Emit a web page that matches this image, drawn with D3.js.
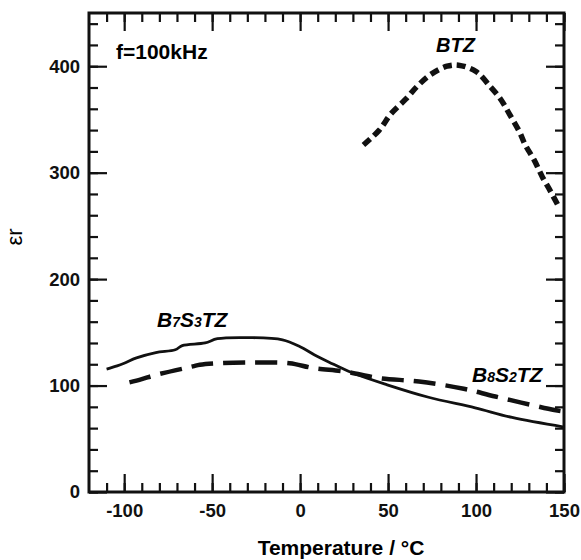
<!DOCTYPE html>
<html>
<head>
<meta charset="utf-8">
<script src="https://cdn.jsdelivr.net/npm/d3@7"></script>
<style>
  body { margin: 0; background: #fff; }
  .axis text { font-family: "Liberation Sans", Arial, sans-serif; font-weight: bold; font-size: 18.5px; fill: #111; }
  .axis line { stroke: #111; stroke-width: 2.2; }
  .axis path { display: none; }
</style>
</head>
<body>
<script>
var w = 581, h = 560;
var padL = 89, padR = 564, padT = 13, padB = 492;

// BTZ
var btzT = [36, 45, 51.5, 60, 66.5, 74, 83.5, 90, 100, 108, 114, 119, 124.5, 128, 133, 137.7, 142.5, 147];
var btzE = [326, 340, 355, 369, 381, 392, 400, 401, 395, 381, 369, 355, 339, 326, 312, 296, 282, 268];

// B7S3TZ
var b7T = [-110, -104, -100, -93, -82, -71, -67, -54, -47, -29, -10, 0, 8, 16.5, 29.6, 49.5, 73, 99.5, 120.5, 150];
var b7E = [115.5, 118.5, 121, 126, 131, 133.6, 137.5, 140, 144, 145, 143, 136.5, 129, 122, 112, 100.7, 89, 79, 70, 61];

// B8S2TZ
var b8T = [-97, -90, -82, -61, -57, -46, -27, -6, 7, 26, 45, 67.6, 93, 111, 144.5, 148];
var b8E = [103, 106, 110, 118, 119.5, 121, 121.6, 121, 116.6, 113, 107, 103.8, 97, 89.7, 77, 76];

var xMajor = [-100, -50, 0, 50, 100, 150];
var yMajor = [0, 100, 200, 300, 400];

var svg = d3.select("body").append("svg")
  .attr("width", w)
  .attr("height", h);

var xScale = d3.scaleLinear().domain([-120, 150]).range([padL, padR]);
var yScale = d3.scaleLinear().domain([0, 450]).range([padB, padT]);

var xMinor = d3.range(-110, 151, 10);
var yMinor = d3.range(0, 451, 20);
var plain = function(d) { return String(d); };  //hyphen minus, not d3's

//minor ticks, all four sides
svg.append("g").attr("class", "axis").attr("transform", "translate(0," + padB + ")")
  .call(d3.axisBottom(xScale).tickValues(xMinor).tickSize(-9).tickFormat(""));
svg.append("g").attr("class", "axis").attr("transform", "translate(0," + padT + ")")
  .call(d3.axisTop(xScale).tickValues(xMinor).tickSize(-9).tickFormat(""));
svg.append("g").attr("class", "axis").attr("transform", "translate(" + padL + ",0)")
  .call(d3.axisLeft(yScale).tickValues(yMinor).tickSize(-9).tickFormat(""));
svg.append("g").attr("class", "axis").attr("transform", "translate(" + padR + ",0)")
  .call(d3.axisRight(yScale).tickValues(yMinor).tickSize(-9).tickFormat(""));

//major ticks
svg.append("g").attr("class", "axis").attr("transform", "translate(0," + padB + ")")
  .call(d3.axisBottom(xScale).tickValues(xMajor).tickSize(-18).tickPadding(12).tickFormat(plain));
svg.append("g").attr("class", "axis").attr("transform", "translate(0," + padT + ")")
  .call(d3.axisTop(xScale).tickValues(xMajor).tickSize(-18).tickFormat(""));
svg.append("g").attr("class", "axis").attr("transform", "translate(" + padL + ",0)")
  .call(d3.axisLeft(yScale).tickValues(yMajor).tickSize(-18).tickPadding(9).tickFormat(plain));
svg.append("g").attr("class", "axis").attr("transform", "translate(" + padR + ",0)")
  .call(d3.axisRight(yScale).tickValues(yMajor).tickSize(-18).tickFormat(""));

//frame
svg.append("rect")
  .attr("x", padL).attr("y", padT)
  .attr("width", padR - padL).attr("height", padB - padT)
  .attr("fill", "none").attr("stroke", "#111").attr("stroke-width", 3);

var line = d3.line()
  .x(function(d) { return xScale(d[0]); })
  .y(function(d) { return yScale(d[1]); })
  .curve(d3.curveCatmullRom);

svg.append("path")
  .datum(btzT.map(function(t, i) { return [t, btzE[i]]; }))
  .attr("d", line)
  .attr("fill", "none").attr("stroke", "#111")
  .attr("stroke-width", 5.5)
  .attr("stroke-dasharray", "9,5");

svg.append("path")
  .datum(b7T.map(function(t, i) { return [t, b7E[i]]; }))
  .attr("d", line)
  .attr("fill", "none").attr("stroke", "#111")
  .attr("stroke-width", 2.8);

svg.append("path")
  .datum(b8T.map(function(t, i) { return [t, b8E[i]]; }))
  .attr("d", line)
  .attr("fill", "none").attr("stroke", "#111")
  .attr("stroke-width", 4.5)
  .attr("stroke-dasharray", "22,10");

var font = "'Liberation Sans', Arial, sans-serif";

svg.append("text")
  .attr("x", 116).attr("y", 59)
  .attr("font-family", font).attr("font-weight", "bold").attr("font-size", 21)
  .text("f=100kHz");

svg.append("text")
  .attr("x", 436).attr("y", 52)
  .attr("font-family", font).attr("font-weight", "bold").attr("font-style", "italic").attr("font-size", 20)
  .text("BTZ");

function label(x, y, parts) {
  var t = svg.append("text")
    .attr("x", x).attr("y", y)
    .attr("font-family", font).attr("font-weight", "bold").attr("font-style", "italic");
  parts.forEach(function(p, i) {
    t.append("tspan").attr("font-size", i % 2 ? 14 : 21).text(p);
  });
}
label(157, 327, ["B", "7", "S", "3", "TZ"]);
label(472, 382, ["B", "8", "S", "2", "TZ"]);

svg.append("text")
  .attr("x", 341).attr("y", 555)
  .attr("text-anchor", "middle")
  .attr("font-family", font).attr("font-weight", "bold").attr("font-size", 21)
  .text("Temperature / \u00B0C");

svg.append("text")
  .attr("transform", "translate(22,237) rotate(-90)")
  .attr("text-anchor", "middle")
  .attr("font-family", font).attr("font-size", 22)
  .text("\u03B5r");
</script>
</body>
</html>
